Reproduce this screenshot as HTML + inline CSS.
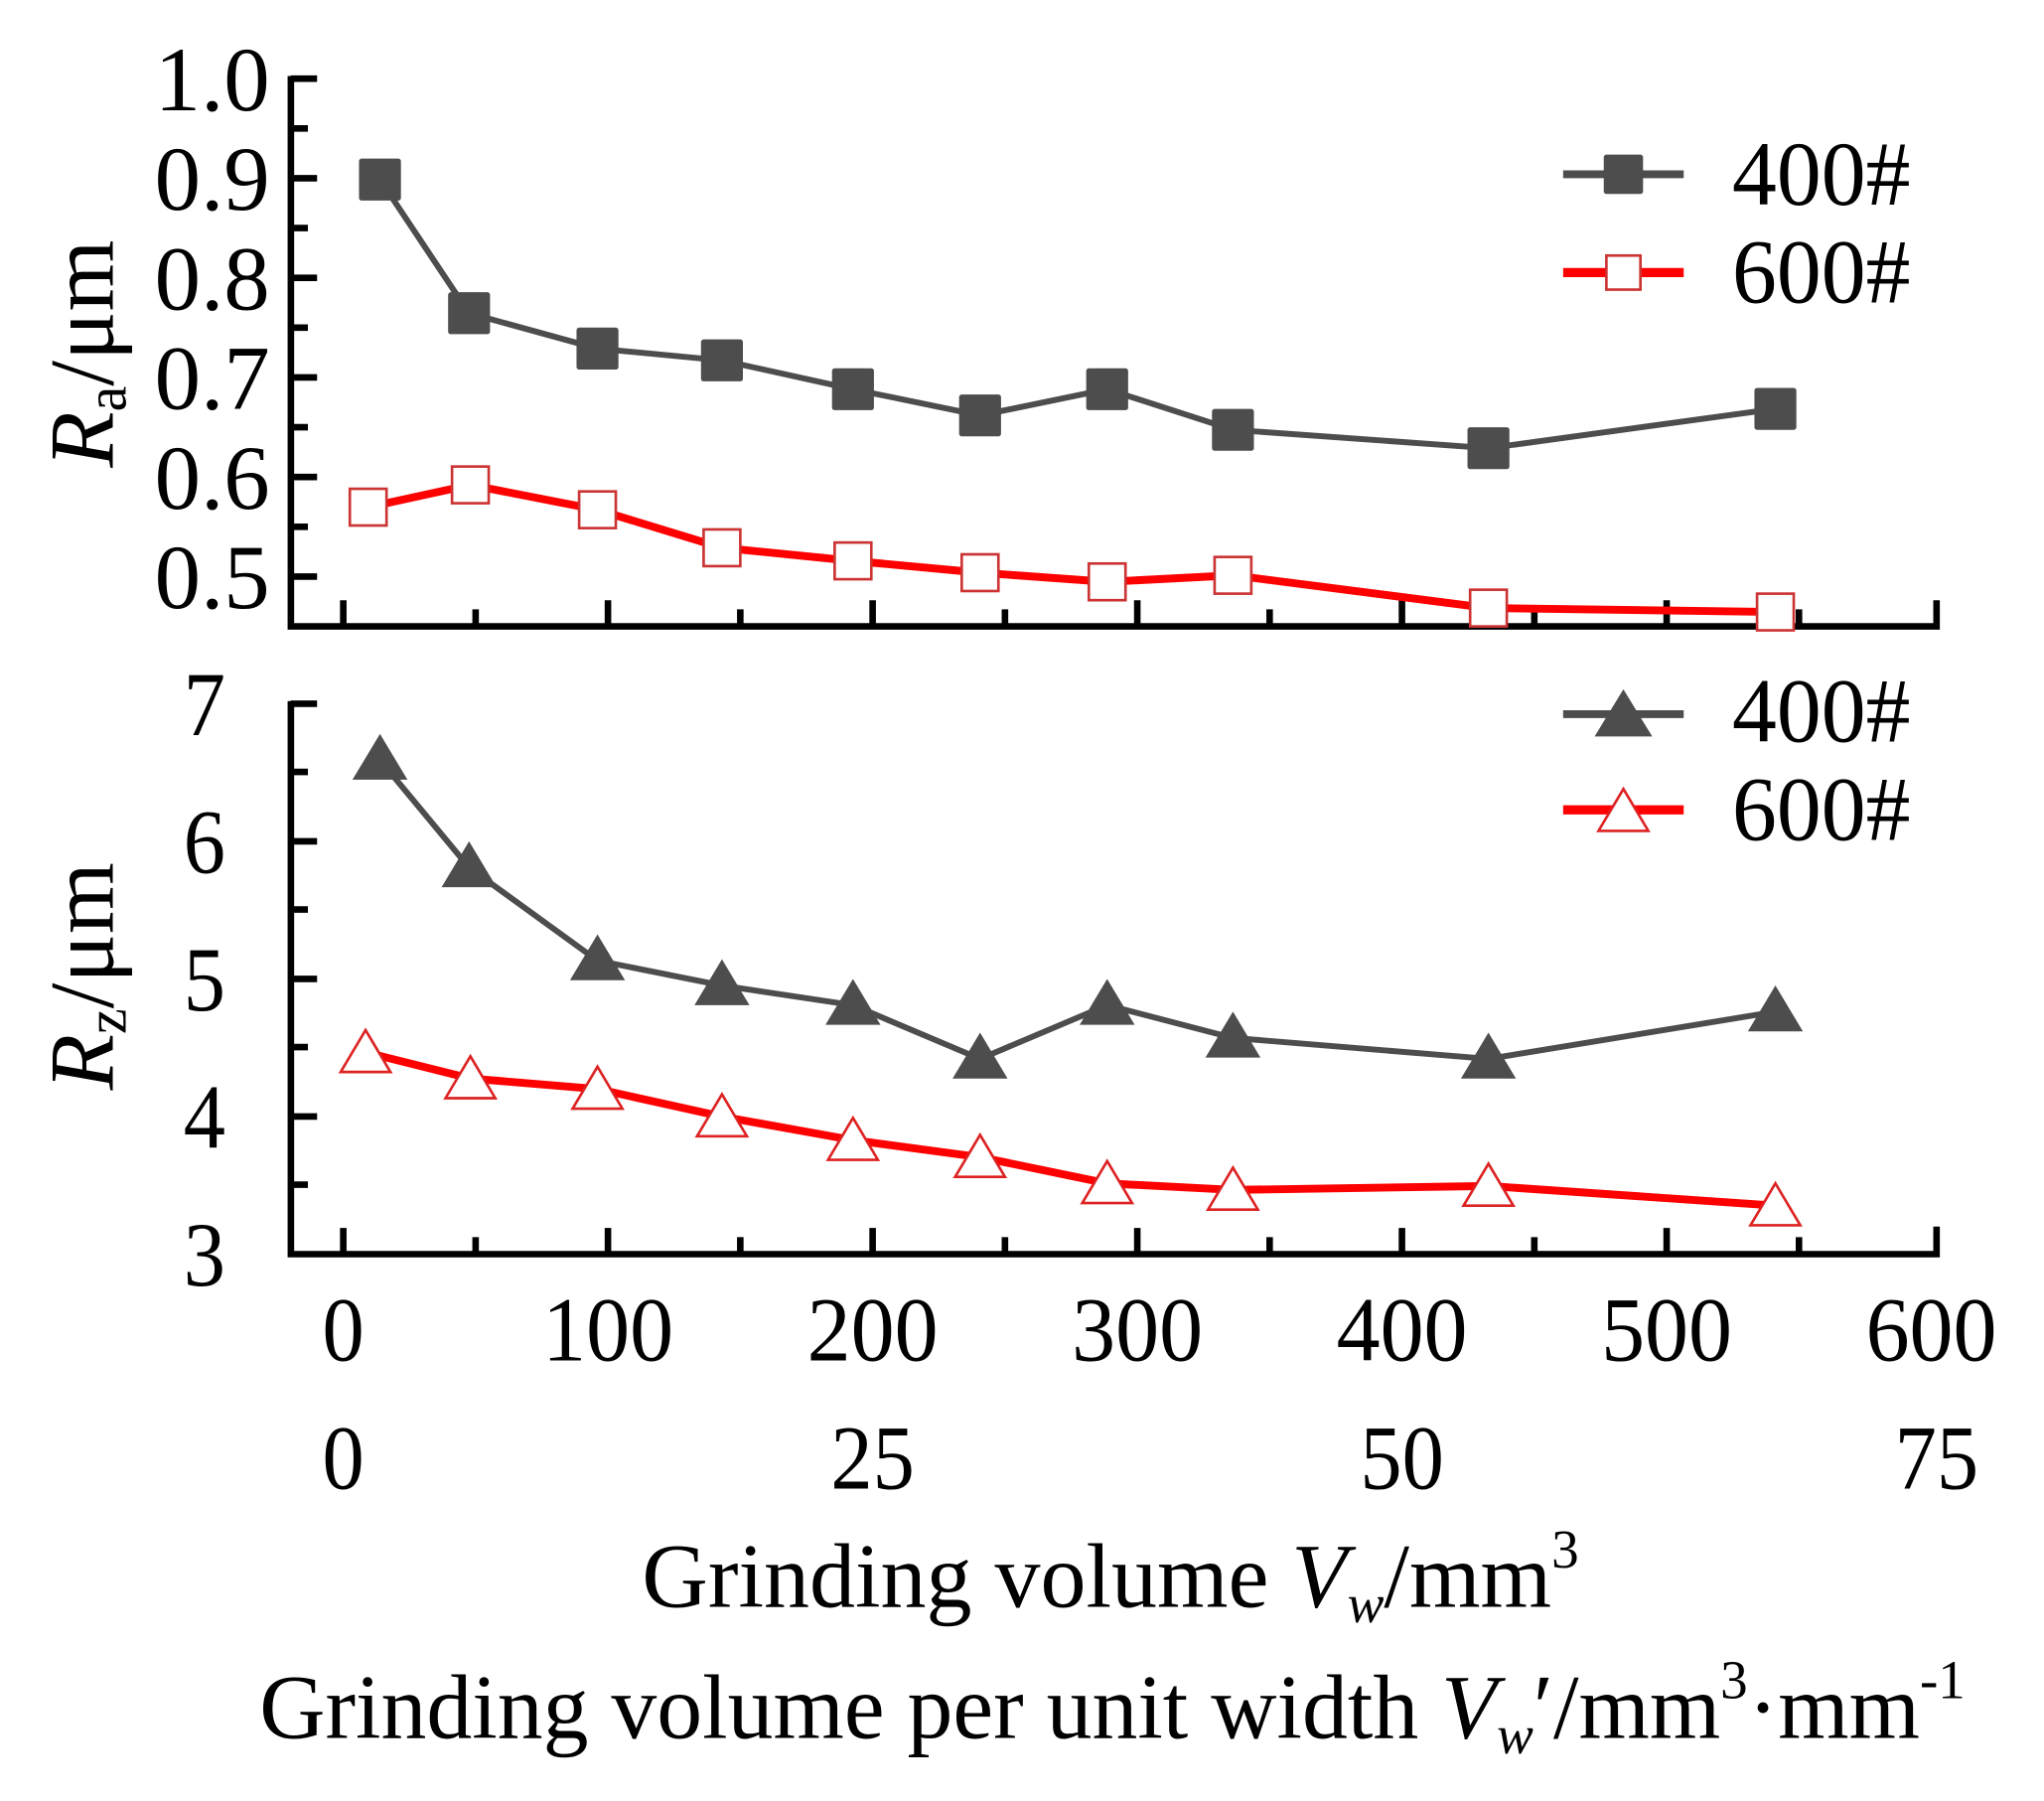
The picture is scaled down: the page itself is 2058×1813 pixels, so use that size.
<!DOCTYPE html>
<html><head><meta charset="utf-8"><style>
html,body{margin:0;padding:0;background:#fff;}
svg{display:block;}
text{font-family:"Liberation Serif",serif;fill:#000;}
</style></head><body>
<svg width="2058" height="1813" viewBox="0 0 1560 1374.3" preserveAspectRatio="none" xmlns="http://www.w3.org/2000/svg">
<g stroke="#000" stroke-width="5" fill="none">
<path d="M222,58 V478 H1478 V458"/>
<path d="M222,60 H242 M222,98 H235 M222,136 H242 M222,174 H235 M222,212 H242 M222,250 H235 M222,288 H242 M222,326 H235 M222,364 H242 M222,402 H235 M222,440 H242"/>
<path d="M262,478 V458 M363,478 V465 M464,478 V458 M565,478 V465 M666,478 V458 M767,478 V465 M868,478 V458 M969,478 V465 M1070,478 V458 M1171,478 V465 M1272,478 V458 M1373,478 V465"/>
<path d="M222,535 V957 H1478 V936"/>
<path d="M222,537 H242 M222,589 H235 M222,642 H242 M222,694 H235 M222,747 H242 M222,799 H235 M222,852 H242 M222,904 H235"/>
<path d="M262,957 V937 M363,957 V944 M464,957 V937 M565,957 V944 M666,957 V937 M767,957 V944 M868,957 V937 M969,957 V944 M1070,957 V937 M1171,957 V944 M1272,957 V937 M1373,957 V944"/>
</g>
<g font-size="70" lengthAdjust="spacingAndGlyphs">
<text x="118" y="84" textLength="88" lengthAdjust="spacingAndGlyphs">1.0</text>
<text x="118" y="160" textLength="88" lengthAdjust="spacingAndGlyphs">0.9</text>
<text x="118" y="236" textLength="88" lengthAdjust="spacingAndGlyphs">0.8</text>
<text x="118" y="312" textLength="88" lengthAdjust="spacingAndGlyphs">0.7</text>
<text x="118" y="388" textLength="88" lengthAdjust="spacingAndGlyphs">0.6</text>
<text x="118" y="464" textLength="88" lengthAdjust="spacingAndGlyphs">0.5</text>
<text x="140" y="561" textLength="32" lengthAdjust="spacingAndGlyphs">7</text>
<text x="140" y="666" textLength="32" lengthAdjust="spacingAndGlyphs">6</text>
<text x="140" y="771" textLength="32" lengthAdjust="spacingAndGlyphs">5</text>
<text x="140" y="876" textLength="32" lengthAdjust="spacingAndGlyphs">4</text>
<text x="140" y="981" textLength="32" lengthAdjust="spacingAndGlyphs">3</text>
<text x="246" y="1038" textLength="32" lengthAdjust="spacingAndGlyphs">0</text>
<text x="414" y="1038" textLength="100" lengthAdjust="spacingAndGlyphs">100</text>
<text x="616" y="1038" textLength="100" lengthAdjust="spacingAndGlyphs">200</text>
<text x="818" y="1038" textLength="100" lengthAdjust="spacingAndGlyphs">300</text>
<text x="1020" y="1038" textLength="100" lengthAdjust="spacingAndGlyphs">400</text>
<text x="1222" y="1038" textLength="100" lengthAdjust="spacingAndGlyphs">500</text>
<text x="1424" y="1038" textLength="100" lengthAdjust="spacingAndGlyphs">600</text>
<text x="246" y="1136" textLength="32" lengthAdjust="spacingAndGlyphs">0</text>
<text x="634" y="1136" textLength="64" lengthAdjust="spacingAndGlyphs">25</text>
<text x="1038" y="1136" textLength="64" lengthAdjust="spacingAndGlyphs">50</text>
<text x="1446" y="1136" textLength="64" lengthAdjust="spacingAndGlyphs">75</text>
</g>
<text font-size="70" text-anchor="middle" transform="translate(86,270) rotate(-90)"><tspan font-style="italic">R</tspan><tspan font-size="44" dy="10">a</tspan><tspan dy="-10">/μm</tspan></text>
<text font-size="70" text-anchor="middle" transform="translate(86,745) rotate(-90)"><tspan font-style="italic">R</tspan><tspan font-size="44" dy="10">z</tspan><tspan dy="-10">/μm</tspan></text>
<text font-size="70" x="490" y="1226" textLength="715" lengthAdjust="spacingAndGlyphs">Grinding volume <tspan font-style="italic">V</tspan><tspan font-style="italic" font-size="42" dy="12">w</tspan><tspan dy="-12">/mm</tspan><tspan font-size="42" dy="-30">3</tspan></text>
<text font-size="70" x="198" y="1326" textLength="1302" lengthAdjust="spacingAndGlyphs">Grinding volume per unit width <tspan font-style="italic">V</tspan><tspan font-style="italic" font-size="42" dy="12">w</tspan><tspan dy="-12">′/mm</tspan><tspan font-size="42" dy="-30">3</tspan><tspan dy="30">·mm</tspan><tspan font-size="42" dy="-30">-1</tspan></text>
<polyline fill="none" stroke="#4d4d4d" stroke-width="4.5" points="290,137 358,239 456,266 551,275 651,297 748,317 845,297 941,328 1136,342 1355,312"/>
<polyline fill="none" stroke="#f00" stroke-width="6" points="281,387 359,370 456,389 551,418 651,428 748,437 845,444 941,439 1136,464 1355,467"/>
<g fill="#4d4d4d">
<rect x="274" y="121" width="32" height="32" rx="2"/><rect x="342" y="223" width="32" height="32" rx="2"/>
<rect x="440" y="250" width="32" height="32" rx="2"/><rect x="535" y="259" width="32" height="32" rx="2"/>
<rect x="635" y="281" width="32" height="32" rx="2"/><rect x="732" y="301" width="32" height="32" rx="2"/>
<rect x="829" y="281" width="32" height="32" rx="2"/><rect x="925" y="312" width="32" height="32" rx="2"/>
<rect x="1120" y="326" width="32" height="32" rx="2"/><rect x="1339" y="296" width="32" height="32" rx="2"/>
</g>
<g fill="#fff" stroke="#c33" stroke-width="2">
<rect x="267" y="373" width="28" height="28"/><rect x="345" y="356" width="28" height="28"/>
<rect x="442" y="375" width="28" height="28"/><rect x="537" y="404" width="28" height="28"/>
<rect x="637" y="414" width="28" height="28"/><rect x="734" y="423" width="28" height="28"/>
<rect x="831" y="430" width="28" height="28"/><rect x="927" y="425" width="28" height="28"/>
<rect x="1122" y="450" width="28" height="28"/><rect x="1341" y="453" width="28" height="28"/>
</g>
<polyline fill="none" stroke="#4d4d4d" stroke-width="4.5" points="290,580 358,662 456,733 551,752 651,767 748,808 845,767 941,792 1136,808 1355,772"/>
<polyline fill="none" stroke="#f00" stroke-width="6" points="279,803 359,823 456,831 551,852 651,870 748,883 845,903 941,908 1136,905 1355,920"/>
<g fill="#4d4d4d">
<path d="M290,560 l21,35 h-42z"/><path d="M358,642 l21,35 h-42z"/><path d="M456,713 l21,35 h-42z"/>
<path d="M551,732 l21,35 h-42z"/><path d="M651,747 l21,35 h-42z"/><path d="M748,788 l21,35 h-42z"/>
<path d="M845,747 l21,35 h-42z"/><path d="M941,772 l21,35 h-42z"/><path d="M1136,788 l21,35 h-42z"/>
<path d="M1355,752 l21,35 h-42z"/>
</g>
<g fill="#fff" stroke="#d22" stroke-width="2">
<path d="M279,786 l19,32 h-38z"/><path d="M359,806 l19,32 h-38z"/><path d="M456,814 l19,32 h-38z"/>
<path d="M551,835 l19,32 h-38z"/><path d="M651,853 l19,32 h-38z"/><path d="M748,866 l19,32 h-38z"/>
<path d="M845,886 l19,32 h-38z"/><path d="M941,891 l19,32 h-38z"/><path d="M1136,888 l19,32 h-38z"/>
<path d="M1355,903 l19,32 h-38z"/>
</g>
<line x1="1193" y1="133" x2="1285" y2="133" stroke="#4d4d4d" stroke-width="6"/>
<rect x="1224" y="118" width="30" height="30" rx="2" fill="#4d4d4d"/>
<line x1="1193" y1="208" x2="1285" y2="208" stroke="#f00" stroke-width="7"/>
<rect x="1226" y="195" width="26" height="26" fill="#fff" stroke="#c33" stroke-width="2"/>
<text font-size="70" x="1322" y="156" textLength="136" lengthAdjust="spacingAndGlyphs">400#</text>
<text font-size="70" x="1322" y="231" textLength="136" lengthAdjust="spacingAndGlyphs">600#</text>
<line x1="1193" y1="545" x2="1285" y2="545" stroke="#4d4d4d" stroke-width="6"/>
<path d="M1239,526 l22,36 h-44z" fill="#4d4d4d"/>
<line x1="1193" y1="618" x2="1285" y2="618" stroke="#f00" stroke-width="7"/>
<path d="M1239,602 l19,32 h-38z" fill="#fff" stroke="#d22" stroke-width="2"/>
<text font-size="70" x="1322" y="566" textLength="136" lengthAdjust="spacingAndGlyphs">400#</text>
<text font-size="70" x="1322" y="641" textLength="136" lengthAdjust="spacingAndGlyphs">600#</text>
</svg>
</body></html>
